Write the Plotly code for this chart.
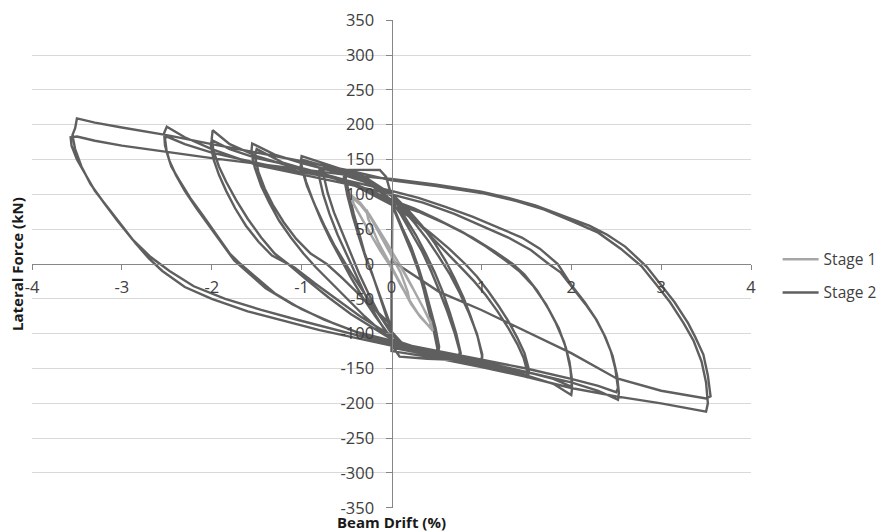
import plotly.graph_objects as go

# ---------------- tick labels ----------------
x_tick_values = [-4, -3, -2, -1, 0, 1, 2, 3, 4]
x_tick_labels = ["-4", "-3", "-2", "-1", "0", "1", "2", "3", "4"]
y_tick_values = [-350, -300, -250, -200, -150, -100, -50, 0, 50, 100, 150, 200, 250, 300, 350]
y_tick_labels = ["-350", "-300", "-250", "-200", "-150", "-100", "-50", "0",
                 "50", "100", "150", "200", "250", "300", "350"]

# ---------------- Stage 1 ----------------
s1_c1_drift = [0.0, 0.1, 0.2, 0.18, 0.1, 0.0, -0.1, -0.2, -0.28, -0.26, -0.15, -0.05, 0.0]
s1_c1_force = [-5, -30, -52, -40, -12, 12, 35, 58, 78, 65, 32, 8, -4]
s1_c2_drift = [0.0, 0.1, 0.2, 0.3, 0.4, 0.46, 0.44, 0.35, 0.25, 0.15, 0.05, -0.05, -0.15, -0.25,
               -0.35, -0.45, -0.43, -0.33, -0.23, -0.13, -0.03, 0.0]
s1_c2_force = [-4, -28, -52, -72, -88, -96, -86, -62, -38, -14, 8, 30, 52, 72, 88, 99, 88, 64, 42, 20, 0, -5]
s1_c3_drift = [0.0, 0.12, 0.22, 0.32, 0.42, 0.44, 0.36, 0.26, 0.16, 0.06, -0.04, -0.14, -0.24,
               -0.34, -0.44, -0.42, -0.32, -0.22, -0.12, 0.0]
s1_c3_force = [-6, -34, -58, -76, -90, -84, -64, -40, -16, 6, 26, 48, 68, 84, 96, 86, 62, 40, 18, -4]

# ---------------- Stage 2 ----------------
c05a_drift = [0.01, 0.0, 0.1, 0.3, 0.5, 0.51, 0.47, 0.42, 0.36, 0.3, 0.22, 0.13, 0.05, 0.0, -0.1, -0.3,
              -0.5, -0.51, -0.47, -0.42, -0.36, -0.3, -0.22, -0.14, -0.06, 0.0]
c05a_force = [105, -100, -116, -124, -129, -121, -96, -68, -38, -10, 18, 46, 72, 86, 108, 123,
              131, 123, 100, 72, 44, 16, -12, -42, -72, -95]
c05b_drift = [0.0, 0.12, 0.3, 0.52, 0.53, 0.49, 0.43, 0.37, 0.3, 0.22, 0.12, 0.03, 0.0, -0.12, -0.3,
              -0.52, -0.53, -0.49, -0.43, -0.36, -0.29, -0.2, -0.11, -0.03, 0.0]
c05b_force = [-97, -114, -122, -127, -119, -92, -62, -34, -5, 24, 52, 80, 88, 110, 124,
              133, 125, 98, 68, 38, 10, -20, -52, -80, -92]
c075a_drift = [0.0, 0.09, 0.4, 0.76, 0.77, 0.72, 0.65, 0.57, 0.48, 0.38, 0.27, 0.15, 0.05, 0.0, -0.06,
               -0.13, -0.5, -0.8, -0.81, -0.76, -0.69, -0.6, -0.5, -0.4, -0.29, -0.17, -0.06, 0.0]
c075a_force = [-116, -133, -136, -138, -128, -100, -70, -40, -12, 15, 42, 68, 88, 98, 125,
               135, 135, 136, 128, 100, 72, 42, 14, -15, -45, -75, -98, -108]
c075b_drift = [0.0, 0.2, 0.5, 0.75, 0.76, 0.7, 0.62, 0.53, 0.44, 0.34, 0.22, 0.1, 0.0, -0.2, -0.5,
               -0.75, -0.76, -0.71, -0.64, -0.55, -0.46, -0.36, -0.25, -0.13, 0.0]
c075b_force = [-110, -122, -130, -135, -126, -98, -68, -38, -10, 18, 46, 72, 90, 115, 128,
               138, 130, 102, 74, 45, 16, -14, -44, -74, -100]
c10a_drift = [0.0, 0.3, 0.6, 1.0, 1.01, 0.96, 0.88, 0.8, 0.7, 0.6, 0.48, 0.34, 0.18, 0.05, 0.0, -0.3,
              -0.6, -1.0, -1.01, -0.95, -0.87, -0.78, -0.68, -0.57, -0.45, -0.32, -0.18, -0.05, 0.0]
c10a_force = [-112, -125, -132, -142, -133, -105, -75, -48, -20, 5, 30, 55, 78, 95, 100, 125,
              138, 155, 146, 118, 90, 62, 35, 8, -20, -48, -75, -98, -105]
c10b_drift = [0.0, 0.3, 0.6, 1.0, 1.01, 0.95, 0.86, 0.76, 0.65, 0.53, 0.4, 0.25, 0.1, 0.0, -0.3, -0.6,
              -1.0, -1.01, -0.94, -0.85, -0.75, -0.64, -0.52, -0.39, -0.25, -0.1, 0.0]
c10b_force = [-108, -122, -130, -138, -130, -100, -70, -42, -15, 10, 35, 60, 82, 92, 120, 135,
              150, 142, 112, 84, 56, 28, 2, -25, -52, -80, -95]
c15a_drift = [0.0, 0.4, 0.8, 1.2, 1.5, 1.51, 1.47, 1.4, 1.3, 1.18, 1.05, 0.92, 0.78, 0.6, 0.4, 0.2, 0.0,
              -0.3, -0.7, -1.0, -1.3, -1.55, -1.56, -1.52, -1.45, -1.36, -1.25, -1.12, -0.98, -0.84,
              -0.66, -0.48, -0.3, -0.12, 0.0]
c15a_force = [-108, -125, -138, -150, -162, -154, -135, -115, -92, -68, -45, -25, -6, 18, 45, 72, 98,
              118, 135, 145, 157, 173, 160, 138, 112, 88, 62, 38, 15, -5,
              -28, -52, -75, -96, -108]
c15b_drift = [0.0, 0.4, 0.8, 1.2, 1.52, 1.53, 1.48, 1.4, 1.3, 1.19, 1.07, 0.95, 0.82, 0.64, 0.44, 0.22,
              0.0, -0.4, -0.8, -1.2, -1.5, -1.52, -1.48, -1.41, -1.32, -1.2, -1.06, -0.9, -0.72,
              -0.55, -0.35, -0.15, 0.0]
c15b_force = [-112, -126, -136, -148, -160, -152, -128, -106, -82, -60, -38, -18, 0, 22, 44, 66,
              85, 112, 130, 145, 165, 155, 132, 108, 85, 60, 36, 15, 0,
              -20, -45, -70, -88]
c20a_drift = [0.0, 0.5, 1.0, 1.5, 1.8, 2.0, 2.01, 1.99, 1.94, 1.86, 1.75, 1.62, 1.48, 1.35, 1.15, 0.9,
              0.6, 0.3, 0.0, -0.5, -1.0, -1.5, -1.8, -1.99, -2.0, -1.98, -1.92, -1.84, -1.73, -1.6,
              -1.45, -1.3, -1.15, -0.95, -0.7, -0.45, -0.2, 0.0]
c20a_force = [-120, -132, -145, -160, -172, -188, -178, -150, -120, -92, -65, -38, -15, 0, 18, 38,
              58, 75, 88, 118, 135, 155, 172, 192, 180, 162, 140, 118, 92, 65,
              38, 15, 0, -22, -48, -72, -92, -108]
c20b_drift = [0.0, 0.5, 1.0, 1.5, 1.8, 2.0, 2.01, 1.98, 1.92, 1.83, 1.72, 1.58, 1.42, 1.27, 1.05, 0.8,
              0.5, 0.25, 0.0, -0.5, -1.0, -1.5, -1.8, -2.0, -2.01, -1.98, -1.92, -1.84, -1.74, -1.62,
              -1.48, -1.33, -1.08, -0.85, -0.6, -0.35, -0.1, 0.0]
c20b_force = [-115, -128, -140, -155, -165, -176, -168, -140, -112, -85, -58, -32, -10, 5, 25, 45,
              65, 80, 92, 120, 138, 152, 165, 178, 170, 150, 128, 105, 80, 55,
              32, 12, -5, -28, -52, -75, -95, -103]
c25a_drift = [0.0, 0.5, 1.0, 1.5, 2.0, 2.3, 2.5, 2.52, 2.49, 2.44, 2.36, 2.27, 2.15, 2.0, 1.85, 1.65,
              1.45, 1.2, 0.9, 0.6, 0.3, 0.0, -0.5, -1.0, -1.5, -2.0, -2.3, -2.5, -2.52, -2.5, -2.45,
              -2.36, -2.24, -2.1, -1.95, -1.8, -1.68, -1.5, -1.3, -1.0, -0.65, -0.3, 0.0]
c25a_force = [-112, -125, -137, -150, -165, -175, -184, -178, -150, -125, -100, -78, -55, -30, 0, 22,
              38, 52, 68, 82, 95, 105, 120, 132, 145, 160, 172, 183, 180, 160, 140,
              120, 95, 70, 42, 15, 0, -20, -42, -65, -85, -102, -112]
c25b_drift = [0.0, 0.5, 1.0, 1.5, 2.0, 2.3, 2.52, 2.53, 2.51, 2.46, 2.38, 2.28, 2.16, 2.02, 1.88, 1.75,
              1.55, 1.3, 1.0, 0.7, 0.35, 0.0, -0.5, -1.0, -1.5, -2.0, -2.3, -2.5, -2.53, -2.52, -2.47,
              -2.4, -2.3, -2.17, -2.03, -1.9, -1.75, -1.6, -1.4, -1.1, -0.75, -0.4, 0.0]
c25b_force = [-118, -130, -142, -155, -170, -182, -195, -185, -160, -132, -105, -80, -58, -35, -12, 0,
              20, 38, 55, 72, 88, 100, 115, 128, 142, 165, 182, 197, 188, 170, 148,
              128, 105, 80, 55, 30, 5, -12, -35, -58, -80, -97, -110]
c35a_drift = [0.0, 0.53, 1.0, 1.39, 2.0, 2.5, 3.0, 3.5, 3.55, 3.52, 3.47, 3.38, 3.3, 3.15, 3.0, 2.84,
              2.6, 2.4, 2.2, 1.9, 1.6, 1.3, 1.0, 0.5, 0.0, -0.5, -1.0, -1.5, -2.0, -2.5, -3.0, -3.3,
              -3.5, -3.57, -3.56, -3.5, -3.4, -3.3, -3.15, -3.0, -2.85, -2.7, -2.55, -2.3, -2.0, -1.6,
              -1.2, -0.8, -0.4, 0.0]
c35a_force = [5, -40, -66, -90, -128, -164, -182, -193, -190, -160, -130, -105, -85, -55, -30, -4,
              25, 42, 55, 70, 84, 95, 104, 114, 122, 128, 136, 143, 152, 161, 170, 177,
              183, 182, 170, 150, 128, 105, 80, 55, 30, 8, -10, -33, -50, -68,
              -82, -95, -106, -117]
c35b_drift = [0.0, 0.5, 1.0, 1.5, 2.0, 2.5, 3.0, 3.5, 3.52, 3.5, 3.45, 3.36, 3.25, 3.1, 2.95, 2.78,
              2.55, 2.3, 2.0, 1.7, 1.4, 1.0, 0.5, 0.0, -0.5, -1.0, -1.5, -2.0, -2.5, -3.0, -3.3, -3.5,
              -3.52, -3.55, -3.52, -3.45, -3.35, -3.2, -3.05, -2.88, -2.68, -2.47, -2.2, -1.85, -1.45,
              -1.05, -0.6, -0.3, 0.0]
c35b_force = [-125, -135, -148, -162, -178, -190, -200, -212, -200, -170, -140, -110, -85, -55, -30, -3,
              22, 45, 62, 78, 90, 102, 112, 120, 135, 148, 160, 172, 185, 196, 203, 209,
              195, 185, 165, 140, 115, 88, 62, 35, 10, -10, -32, -50, -66,
              -80, -95, -105, -115]

stage1_drift = s1_c1_drift + s1_c2_drift + s1_c3_drift
stage1_force = s1_c1_force + s1_c2_force + s1_c3_force
stage2_drift = (c05a_drift + c05b_drift + c075a_drift + c075b_drift + c10a_drift + c10b_drift
                + c15a_drift + c15b_drift + c20a_drift + c20b_drift + c25a_drift + c25b_drift
                + c35a_drift + c35b_drift)
stage2_force = (c05a_force + c05b_force + c075a_force + c075b_force + c10a_force + c10b_force
                + c15a_force + c15b_force + c20a_force + c20b_force + c25a_force + c25b_force
                + c35a_force + c35b_force)

FONT = "Open Sans"
TXT = "#404040"
AXC = "#868686"

fig = go.Figure()
fig.add_trace(go.Scatter(x=stage2_drift, y=stage2_force, mode="lines", name="Stage 2",
                         line=dict(color="#5f5f5f", width=2.4), legendrank=2, legendgroup="s2"))
fig.add_trace(go.Scatter(x=stage1_drift, y=stage1_force, mode="lines", name="Stage 1",
                         line=dict(color="#a6a6a6", width=2.4), legendrank=1, legendgroup="s1"))

# page body adds an 8px offset, so the figure is sized to end at the window edge
fig.update_layout(
    width=879, height=523,
    margin=dict(l=24, r=136, t=12, b=23, autoexpand=False),
    paper_bgcolor="white", plot_bgcolor="white",
    font=dict(family=FONT, size=16, color=TXT),
    showlegend=True,
    legend=dict(x=1.037, xanchor="left", y=0.5436, yanchor="top",
                font=dict(family=FONT, size=15.5, color=TXT),
                tracegroupgap=10, itemwidth=36, bgcolor="rgba(0,0,0,0)"),
    xaxis=dict(range=[-4, 4], tickvals=x_tick_values, ticktext=x_tick_labels,
               anchor="free", position=0.5, showline=True, linecolor=AXC, linewidth=1,
               ticks="outside", ticklen=5, tickcolor=AXC, showgrid=False, zeroline=False,
               automargin=False, ticklabeloverflow="allow",
               ticklabelstandoff=3, tickfont=dict(family=FONT, size=16.5, color=TXT)),
    yaxis=dict(range=[-350.3, 350.3], tickvals=y_tick_values, ticktext=y_tick_labels,
               anchor="free", position=0.5, showline=True, linecolor=AXC, linewidth=1,
               ticks="outside", ticklen=6, tickcolor=AXC, showgrid=True, gridcolor="#d9d9d9",
               gridwidth=1, zeroline=False, ticklabelstandoff=8, automargin=False,
               ticklabeloverflow="allow",
               tickfont=dict(family=FONT, size=16.5, color=TXT)),
    annotations=[
        dict(text="<b>Lateral Force (kN)</b>", xref="paper", yref="paper", x=-0.0209, y=0.5,
             textangle=-90, showarrow=False, xanchor="center", yanchor="middle",
             font=dict(family=FONT, size=15, color="#1a1a1a")),
        dict(text="<b>Beam Drift (%)</b>", xref="paper", yref="paper", x=0.5, y=-0.0287,
             showarrow=False, xanchor="center", yanchor="middle",
             font=dict(family=FONT, size=15, color="#1a1a1a")),
    ],
)

fig.write_html("out.html")
